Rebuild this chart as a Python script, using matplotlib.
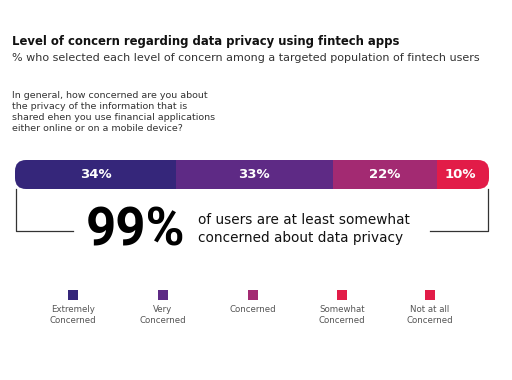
import matplotlib
matplotlib.use("Agg")
import matplotlib.pyplot as plt
from matplotlib.patches import FancyBboxPatch, Rectangle
from matplotlib.lines import Line2D

# data
levels = ["Extremely\nConcerned", "Very\nConcerned", "Concerned", "Somewhat\nConcerned", "Not at all\nConcerned"]
shares = [34, 33, 22, 10, 1]
bar_labels = ["34%", "33%", "22%", "10%", ""]
colors = ["#35267a", "#5e2a85", "#a32a72", "#e21c48", "#e21c48"]
headline = "99%"

plt.rcParams['font.family'] = ['DejaVu Sans']

W, H = 512, 380
fig = plt.figure(figsize=(W / 100, H / 100), dpi=100)
fig.patch.set_facecolor("white")

def fx(px):
    return px / W

def fy(py):
    return 1 - py / H

# titles
fig.text(fx(12), fy(41), "Level of concern regarding data privacy using fintech apps",
         fontsize=8.4, fontweight="bold", color="#111111", va="center", ha="left")
fig.text(fx(12), fy(58), "% who selected each level of concern among a targeted population of fintech users",
         fontsize=8.0, color="#333333", va="center", ha="left")
fig.text(fx(12), fy(112),
         "In general, how concerned are you about\nthe privacy of the information that is\n"
         "shared ehen you use financial applications\neither online or on a mobile device?",
         fontsize=6.8, color="#333333", va="center", ha="left", linespacing=1.33)

# stacked bar
ax = fig.add_axes([fx(15), fy(189), fx(474), 29 / H])
total = sum(shares)
left = 0
bars = []
for val, col, lab in zip(shares, colors, bar_labels):
    b = ax.barh(0, val, left=left, height=1, color=col, edgecolor="none")
    bars.append(b[0])
    if lab:
        ax.text(left + val / 2, 0, lab, ha="center", va="center", color="white",
                fontsize=9.5, fontweight="bold")
    left += val
ax.set_xlim(0, total)
ax.set_ylim(-0.5, 0.5)
ax.axis("off")

# rounded ends
aw, ah = 474, 29
clip = FancyBboxPatch((0, 0), 1, 1, boxstyle="round,pad=0,rounding_size=%f" % (11 / aw),
                      mutation_aspect=aw / ah, transform=ax.transAxes,
                      facecolor="none", edgecolor="none")
ax.add_patch(clip)
for b in bars:
    b.set_clip_path(clip)

# bracket
lc = "#333333"
fig.add_artist(Line2D([fx(16), fx(16), fx(73)], [fy(189), fy(231), fy(231)], color=lc, lw=0.9))
fig.add_artist(Line2D([fx(430), fx(488), fx(488)], [fy(231), fy(231), fy(189)], color=lc, lw=0.9))

fig.text(fx(136), fy(231), headline, fontsize=38, fontweight="bold", fontstyle="normal",
         color="#000000", ha="center", va="center", family=["Roboto", "DejaVu Sans"])
fig.text(fx(198), fy(229), "of users are at least somewhat\nconcerned about data privacy",
         fontsize=9.8, color="#111111", ha="left", va="center", linespacing=1.4)

# legend
centers = [73, 163, 253, 342, 430]
for cx, col, lev in zip(centers, colors, levels):
    fig.add_artist(Rectangle((fx(cx - 5), fy(300)), 10 / W, 10 / H, transform=fig.transFigure,
                             facecolor=col, edgecolor="none"))
    fig.text(fx(cx), fy(305), lev, fontsize=6.2, color="#555555", ha="center", va="top",
             linespacing=1.3)

fig.savefig("out.png", dpi=100, facecolor="white")
